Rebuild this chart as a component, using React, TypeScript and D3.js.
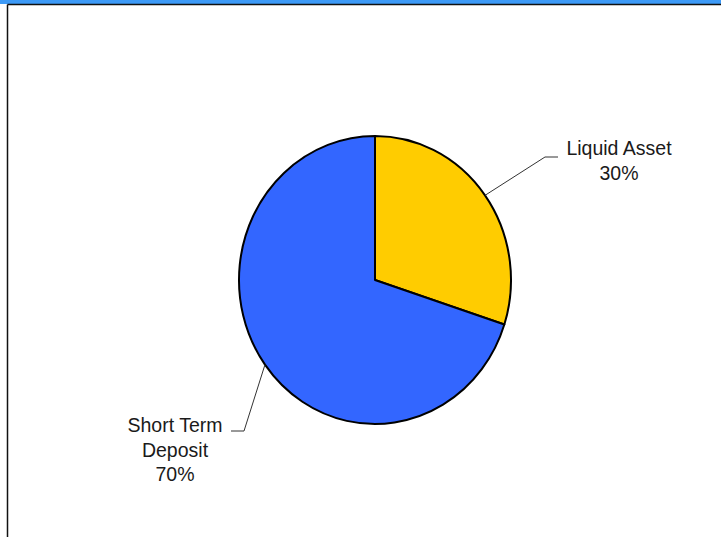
import React from "react";
import * as d3 from "d3";

const categories = ["Liquid Asset", "Short Term Deposit"];
const values = [30, 70];
const colors = ["#FFCC00", "#3366FF"];
const labelLines = [["Liquid Asset", "30%"], ["Short Term", "Deposit", "70%"]];

const W = 721;
const H = 537;
const cx = 375;
const cy = 280;
const rx = 136;
const ry = 144;

// label layout: elbow point, horizontal tail end, text center x, first baseline
const labelLayout = [
  { elbow: [545, 157], tail: [558, 157], tx: 619, ty: 155, anchor: "middle" },
  { elbow: [244, 431], tail: [231, 431], tx: 175, ty: 432, anchor: "middle" },
];

export default function App() {
  const pie = d3.pie<number>().sort(null).value((d) => d).startAngle(0).endAngle(2 * Math.PI);
  const arcs = pie(values);
  const arc = d3.arc<d3.PieArcDatum<number>>().innerRadius(0).outerRadius(ry);
  const sx = rx / ry;

  return (
    <svg width={W} height={H} style={{ position: "absolute", left: 0, top: 0, background: "#fff" }}>
      <rect x={0} y={0} width={W} height={4} fill="#3D9AF7" />
      <line x1={7.5} y1={4.5} x2={W} y2={4.5} stroke="#111" strokeWidth={1.5} />
      <line x1={7.5} y1={4.5} x2={7.5} y2={H} stroke="#111" strokeWidth={1.5} />
      <g transform={`translate(${cx},${cy}) scale(${sx},1)`}>
        {arcs.map((a, i) => (
          <path
            key={categories[i]}
            d={arc(a) || ""}
            fill={colors[i]}
            stroke="#000"
            strokeWidth={2}
            strokeLinejoin="round"
            vectorEffect="non-scaling-stroke"
          />
        ))}
      </g>
      {arcs.map((a, i) => {
        const mid = (a.startAngle + a.endAngle) / 2;
        const px = cx + rx * Math.sin(mid);
        const py = cy - ry * Math.cos(mid);
        const L = labelLayout[i];
        return (
          <g key={"lbl" + i}>
            <polyline
              points={`${px},${py} ${L.elbow[0]},${L.elbow[1]} ${L.tail[0]},${L.tail[1]}`}
              fill="none"
              stroke="#333"
              strokeWidth={1}
            />
            <text
              x={L.tx}
              y={L.ty}
              textAnchor={L.anchor as any}
              fontFamily="'Liberation Sans', Arial, sans-serif"
              fontSize={19.5}
              fill="#1a1a1a"
            >
              {labelLines[i].map((t, j) => (
                <tspan key={j} x={L.tx} y={L.ty + j * 24.5}>
                  {t}
                </tspan>
              ))}
            </text>
          </g>
        );
      })}
    </svg>
  );
}
